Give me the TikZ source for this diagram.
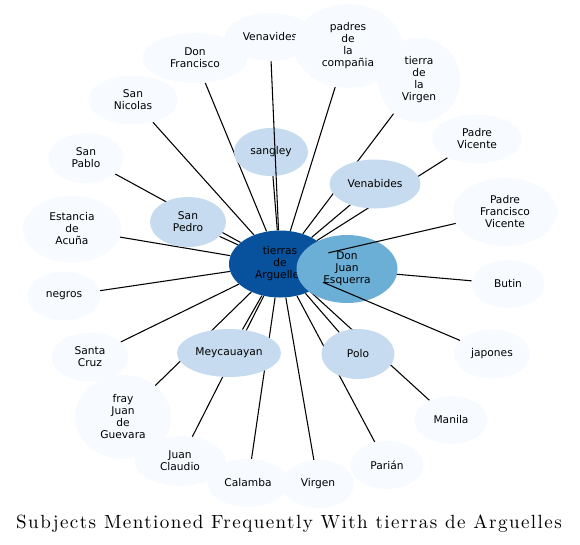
\documentclass[tikz,border=0pt]{standalone}
\usepackage{fontspec}
\usepackage{xcolor}
\usepackage{tikz}
\usetikzlibrary{backgrounds,shapes.geometric}
\newfontfamily\subjectfont{DejaVu Sans}
\newfontfamily\titlefont{lmroman10-regular.otf}[LetterSpace=7.5]
\definecolor{hubblue}{HTML}{08519C}
\definecolor{pairblue}{HTML}{6BAED6}
\definecolor{midblue}{HTML}{C6DBEF}
\definecolor{paleblue}{HTML}{F7FBFF}
\tikzset{
  subject/.style={
    ellipse,
    fill=paleblue,
    inner sep=0pt,
    align=center,
    font=\subjectfont\fontsize{8}{9}\selectfont
  },
  oval/.style 2 args={
    minimum width=#1*0.75pt,
    minimum height=#2*0.75pt
  },
  midsubject/.style={
    subject,
    fill=midblue
  },
  pairsubject/.style={
    subject,
    fill=pairblue
  },
  hubsubject/.style={
    subject,
    fill=hubblue
  },
  spoke/.style={
    draw=black,
    line width=0.8pt
  }
}

\begin{document}
\begin{tikzpicture}[x=0.75pt,y=-0.75pt]
    \useasboundingbox (0,0) rectangle (580,544);

    \node[hubsubject, oval={102}{67}] (tierras) at (280,264) {tierras\\de\\Arguelles};
    \node[pairsubject, oval={101}{68}] (donjuan) at (347,269) {Don\\Juan\\Esquerra};

    \node[subject, oval={90}{48}] (venavides) at (270,37) {Venavides};
    \node[subject, oval={108}{84}] (padres) at (348,46) {padres\\de\\la\\compañia};
    \node[subject, oval={82}{85}] (tierravirgen) at (419,80) {tierra\\de\\la\\Virgen};
    \node[subject, oval={90}{49}] (padrevicente) at (477,139) {Padre\\Vicente};
    \node[subject, oval={104}{68}] (padrefrancisco) at (505,212) {Padre\\Francisco\\Vicente};
    \node[subject, oval={73}{48}] (butin) at (508,284) {Butin};
    \node[subject, oval={76}{49}] (japones) at (492,354) {japones};
    \node[subject, oval={73}{48}] (manila) at (451,420) {Manila};
    \node[subject, oval={73}{48}] (parian) at (387,465) {Parián};
    \node[subject, oval={72}{48}] (virgen) at (318,484) {Virgen};
    \node[subject, oval={81}{48}] (calamba) at (248,483) {Calamba};
    \node[subject, oval={91}{50}] (juanclaudio) at (180,461) {Juan\\Claudio};
    \node[subject, oval={96}{84}] (guevara) at (123,417) {fray\\Juan\\de\\Guevara};
    \node[subject, oval={77}{49}] (santacruz) at (90,357) {Santa\\Cruz};
    \node[subject, oval={73}{49}] (negros) at (64,296) {negros};
    \node[subject, oval={98}{67}] (acuna) at (72,229) {Estancia\\de\\Acuña};
    \node[subject, oval={75}{50}] (sanpablo) at (86,158) {San\\Pablo};
    \node[subject, oval={90}{49}] (sannicolas) at (133,100) {San\\Nicolas};
    \node[subject, oval={105}{50}] (donfrancisco) at (195,58) {Don\\Francisco};

    \node[midsubject, oval={74}{48}] (sangley) at (271,152) {sangley};
    \node[midsubject, oval={91}{49}] (venabides) at (375,184) {Venabides};
    \node[midsubject, oval={76}{50}] (sanpedro) at (188,222) {San\\Pedro};
    \node[midsubject, oval={104}{48}] (meycauayan) at (229,353) {Meycauayan};
    \node[midsubject, oval={73}{50}] (polo) at (358,354) {Polo};

    \begin{scope}[on background layer]
        \draw[spoke] (tierras) -- (padres);
        \draw[spoke] (tierras) -- (tierravirgen);
        \draw[spoke] (tierras) -- (padrevicente);
        \draw[spoke] (tierras) -- (venabides);
        \draw[spoke] (tierras) -- (butin);
        \draw[spoke] (tierras) -- (polo);
        \draw[spoke] (tierras) -- (manila);
        \draw[spoke] (tierras) -- (parian);
        \draw[spoke] (tierras) -- (virgen);
        \draw[spoke] (tierras) -- (calamba);
        \draw[spoke] (tierras) -- (meycauayan);
        \draw[spoke] (tierras) -- (juanclaudio);
        \draw[spoke] (tierras) -- (guevara);
        \draw[spoke] (tierras) -- (santacruz);
        \draw[spoke] (tierras) -- (negros);
        \draw[spoke] (tierras) -- (acuna);
        \draw[spoke] (tierras) -- (sanpedro);
        \draw[spoke] (tierras) -- (sanpablo);
        \draw[spoke] (tierras) -- (sannicolas);
        \draw[spoke] (tierras) -- (donfrancisco);
        \draw[spoke] (tierras) -- (sangley);
    \end{scope}
    \draw[spoke] (tierras) -- (venavides);
    \draw[spoke] (tierras) -- (padrefrancisco);
    \draw[spoke] (tierras) -- (japones);

    \node[font=\titlefont\fontsize{14.3}{17}\selectfont, anchor=base] (title) at (289,528) {Subjects Mentioned Frequently With tierras de Arguelles};
\end{tikzpicture}
\end{document}
